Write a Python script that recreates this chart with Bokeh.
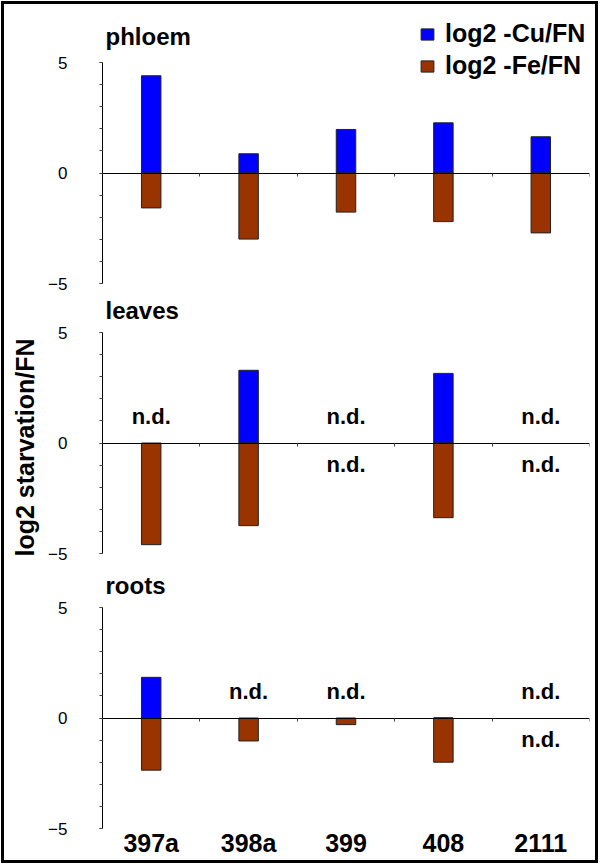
import math
from bokeh.plotting import figure
from bokeh.models import (Range1d, LinearAxis, FixedTicker, Legend, LegendItem,
                          ColumnDataSource)
from bokeh.layouts import column, row
from bokeh.embed import file_html
from bokeh.resources import INLINE
from bokeh.core.properties import value

# ---------------- data ----------------
categories = ["397a", "398a", "399", "408", "2111"]
panel_names = ["phloem", "leaves", "roots"]
series_labels = ["log2 -Cu/FN", "log2 -Fe/FN"]
phloem_cu = [4.4, 0.87, 1.97, 2.27, 1.64]
phloem_fe = [-1.58, -2.99, -1.77, -2.2, -2.71]
leaves_cu = [None, 3.29, None, 3.15, None]      # None = n.d.
leaves_fe = [-4.6, -3.74, None, -3.38, None]
roots_cu = [1.84, None, None, 0.0, None]
roots_fe = [-2.36, -1.04, -0.3, -2.0, None]
y_ticks = [-5, 0, 5]
y_minor = [-5, -4, -3, -2, -1, 0, 1, 2, 3, 4, 5]
nd_text = "n.d."
y_title = "log2 starvation/FN"

FONT = "Liberation Sans"
BLUE = "#0000FF"
BROWN = "#993300"
ND_ABOVE = 1.19
ND_BELOW = -0.99
YMIN, YMAX = -5, 5

N = len(categories)
xc = [i + 0.5 for i in range(N)]          # category centres on the numeric scale

TITLE_W = 40
TOTAL_H = 856
PANEL_W = 591 - TITLE_W


def nanify(vals):
    return [float("nan") if v is None else v for v in vals]


def make_panel(name, cu, fe, height, top_gap, bbot, title_dy, legend=False,
               cats=False):
    frame_h = height - bbot
    y_top = YMIN + (YMAX - YMIN) * frame_h / (frame_h - top_gap)
    p = figure(width=PANEL_W, height=height, title=None,
               x_range=Range1d(0, N), y_range=Range1d(YMIN, y_top),
               x_axis_location=None, y_axis_location=None,
               output_backend="svg", toolbar_location=None,
               min_border_left=98 - TITLE_W, min_border_right=6,
               min_border_top=0, min_border_bottom=bbot)
    p.outline_line_color = None
    p.grid.visible = False
    p.background_fill_color = "white"
    p.border_fill_color = "white"

    # panel name
    p.text(x=[0], y=[YMAX], text=[name], x_offset=3, y_offset=title_dy,
           text_font=value(FONT), text_font_style="bold", text_font_size="24px",
           text_align="left", text_baseline="alphabetic", text_color="black")

    src = ColumnDataSource(dict(x=xc, cat=categories, cu=nanify(cu), fe=nanify(fe)))
    r1 = p.vbar(x="x", top="cu", bottom=0, width=0.2, source=src,
                fill_color=BLUE, line_color="#222222", line_width=1)
    r2 = p.vbar(x="x", top="fe", bottom=0, width=0.2, source=src,
                fill_color=BROWN, line_color="#222222", line_width=1)

    # n.d. labels
    nd_up = [x for x, v in zip(xc, cu) if v is None]
    nd_dn = [x for x, v in zip(xc, fe) if v is None]
    for xs, yv in ((nd_up, ND_ABOVE), (nd_dn, ND_BELOW)):
        if xs:
            p.text(x=xs, y=[yv] * len(xs), text=[nd_text] * len(xs),
                   text_font=value(FONT), text_font_style="bold",
                   text_font_size="22px", text_align="center",
                   text_baseline="alphabetic", text_color="black")

    # y axis (limited to -5..5)
    yax = LinearAxis(ticker=FixedTicker(ticks=y_ticks, minor_ticks=y_minor),
                     bounds=(YMIN, YMAX),
                     major_tick_in=0, major_tick_out=3,
                     minor_tick_in=0, minor_tick_out=3,
                     major_tick_line_color="#444444",
                     minor_tick_line_color="#444444",
                     axis_line_color="black", axis_line_width=1,
                     major_label_standoff=32,
                     major_label_text_font=FONT,
                     major_label_text_font_size="17px",
                     major_label_text_color="black")
    p.add_layout(yax, "left")

    # zero line axis with category boundary ticks
    zax = LinearAxis(ticker=FixedTicker(ticks=list(range(N + 1))),
                     fixed_location=0,
                     major_tick_in=0, major_tick_out=3,
                     major_tick_line_color="#444444",
                     minor_tick_line_color=None,
                     axis_line_color="black", axis_line_width=1,
                     major_label_standoff=0,
                     major_label_text_font_size="0px",
                     major_label_overrides={i: "" for i in range(N + 1)})
    p.add_layout(zax, "below")

    if cats:
        cax = LinearAxis(ticker=FixedTicker(ticks=xc),
                         major_label_overrides={x: c for x, c in zip(xc, categories)},
                         major_tick_line_color=None,
                         minor_tick_line_color=None,
                         axis_line_color=None,
                         major_tick_out=0, major_tick_in=0,
                         major_label_standoff=0,
                         major_label_text_font=FONT,
                         major_label_text_font_size="25px",
                         major_label_text_font_style="bold",
                         major_label_text_color="black")
        p.add_layout(cax, "below")

    if legend:
        lg = Legend(items=[LegendItem(label=series_labels[0], renderers=[r1]),
                           LegendItem(label=series_labels[1], renderers=[r2])],
                    location=(317, 203),
                    label_text_font=FONT, label_text_font_style="bold",
                    label_text_font_size="25px", label_text_color="black",
                    glyph_width=16, glyph_height=14, label_standoff=10,
                    padding=0, margin=0, spacing=3,
                    border_line_color=None, background_fill_alpha=0)
        p.add_layout(lg)
    return p


# shared y-axis title in its own narrow strip
tfig = figure(width=TITLE_W, height=TOTAL_H, x_range=Range1d(0, 1),
              y_range=Range1d(0, TOTAL_H), output_backend="svg",
              toolbar_location=None, x_axis_location=None, y_axis_location=None,
              min_border=0, title=None)
tfig.outline_line_color = None
tfig.grid.visible = False
tfig.text(x=[0.5], y=[TOTAL_H - 443], text=[y_title], angle=math.pi / 2,
          text_font=value(FONT), text_font_style="bold", text_font_size="25px",
          text_align="center", text_baseline="middle", text_color="black")

p1 = make_panel(panel_names[0], phloem_cu, phloem_fe, 292, 58, 13, -26, legend=True)
p2 = make_panel(panel_names[1], leaves_cu, leaves_fe, 274, 36, 17, -22)
p3 = make_panel(panel_names[2], roots_cu, roots_fe, 290, 37, 32, -22, cats=True)

layout = row(tfig, column(p1, p2, p3), width=597, height=862,
             styles={"border": "3px solid black",
                     "box-sizing": "border-box",
                     "position": "absolute",
                     "left": "1px", "top": "1px"})

open("out.html", "w").write(file_html(layout, INLINE))
